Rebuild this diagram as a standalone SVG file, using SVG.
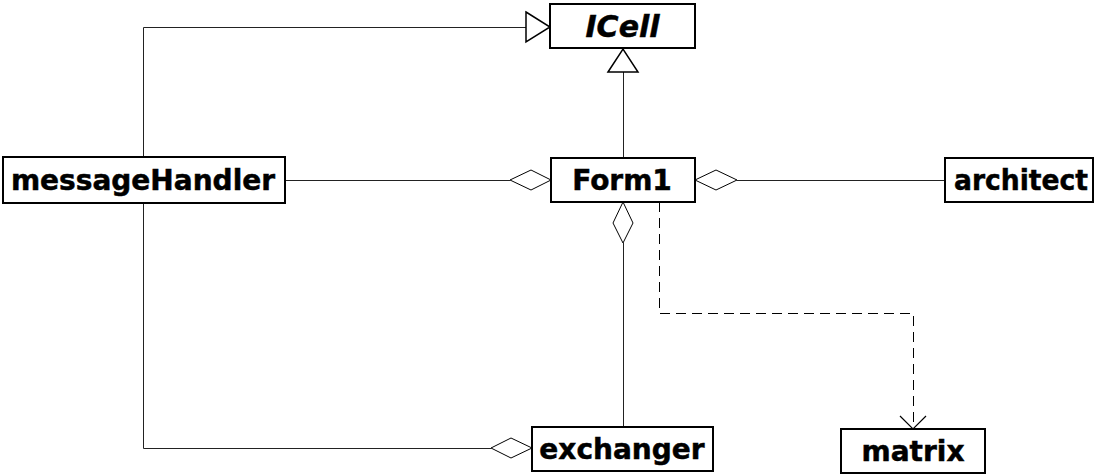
<svg xmlns="http://www.w3.org/2000/svg" width="1103" height="475" viewBox="0 0 1103 475">
<style>
.box{fill:#fff;stroke:#000;stroke-width:2}
.lbl{font-family:"DejaVu Sans",Verdana,sans-serif;font-weight:bold;font-size:28px;text-anchor:middle;fill:#000;stroke:#000;stroke-width:0.5}
.it{font-style:italic;font-size:30px}
.ln{fill:none;stroke:#222;stroke-width:1}
.dash{fill:none;stroke:#000;stroke-width:1;stroke-dasharray:10,6}
.tri{fill:#fff;stroke:#000;stroke-width:1.5}
.dia{fill:#fff;stroke:#000;stroke-width:1}
.open{fill:none;stroke:#000;stroke-width:1.2}
</style>
<rect width="1103" height="475" fill="#fff"/>
<g id="connectors">
<polyline class="ln" points="143.5,157 143.5,27.5 526,27.5"/>
<polygon class="tri" points="526,12 550,27 526,42"/>
<line class="ln" x1="623.5" y1="158" x2="623.5" y2="72"/>
<polygon class="tri" points="608,72 623,49 638,72"/>
<line class="ln" x1="285" y1="180.5" x2="510" y2="180.5"/>
<polygon class="dia" points="510,180 531,170 551,180 531,190"/>
<polygon class="dia" points="695,180 716,170 737,180 716,190"/>
<line class="ln" x1="737" y1="180.5" x2="945" y2="180.5"/>
<polygon class="dia" points="623,202 613,223 623,243 633,223"/>
<line class="ln" x1="623.5" y1="243" x2="623.5" y2="427"/>
<polyline class="ln" points="143.5,203 143.5,448.5 491,448.5"/>
<polygon class="dia" points="491,448 511,438 532,448 511,458"/>
<polyline class="dash" points="659.5,202 659.5,313.5 913.5,313.5 913.5,428"/>
<polyline class="open" points="900,416 913,429 926,416"/>
</g>
<g id="ICell">
<rect class="box" x="550" y="4" width="145" height="44"/>
<text class="lbl it" x="622.5" y="37">ICell</text>
</g>
<g id="messageHandler">
<rect class="box" x="3" y="157" width="282" height="46"/>
<text class="lbl" x="143" y="190">messageHandler</text>
</g>
<g id="Form1">
<rect class="box" x="551" y="158" width="144" height="44"/>
<text class="lbl" x="622" y="190">Form1</text>
</g>
<g id="architect">
<rect class="box" x="945" y="158" width="148" height="44"/>
<text class="lbl" x="1021" y="190" textLength="134" lengthAdjust="spacingAndGlyphs">architect</text>
</g>
<g id="exchanger">
<rect class="box" x="532" y="427" width="181" height="44"/>
<text class="lbl" x="622" y="459">exchanger</text>
</g>
<g id="matrix">
<rect class="box" x="841" y="429" width="144" height="44"/>
<text class="lbl" x="913" y="461">matrix</text>
</g>
</svg>
